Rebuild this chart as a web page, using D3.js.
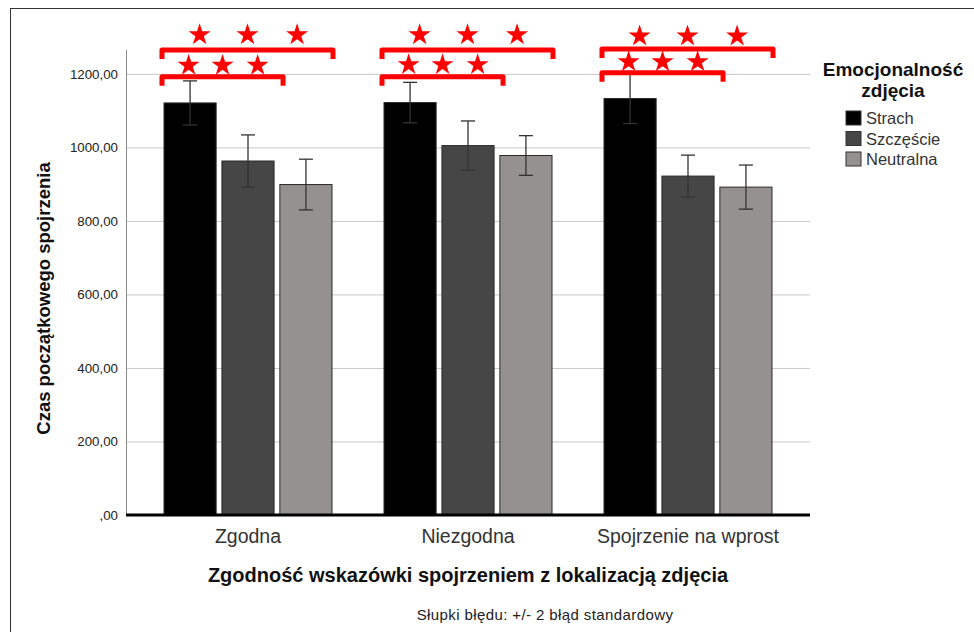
<!DOCTYPE html>
<html>
<head>
<meta charset="utf-8">
<script src="https://cdn.jsdelivr.net/npm/d3@7"></script>
<style>
  body { margin: 0; background: #fff; }
  svg { font-family: "Liberation Sans", Arial, sans-serif; }
</style>
</head>
<body>
<svg id="chart" width="974" height="632"></svg>
<script>
// data
const groups = ["Zgodna", "Niezgodna", "Spojrzenie na wprost"];
const series = ["Strach", "Szczęście", "Neutralna"];
const colors = ["#000000", "#464646", "#959190"];
const means = [
    [1121, 963, 899],
    [1122, 1005, 978],
    [1133, 922, 892]
];
const errs = [
    [60, 71, 69],
    [55, 67, 54],
    [68, 57, 60]
];
const yTicks = [0, 200, 400, 600, 800, 1000, 1200];
// significance brackets: group index, last series covered, bracket level, star level
const brackets = [
    {g: 0, to: 2, level: 1265, star: 1306},
    {g: 0, to: 1, level: 1192, star: 1223},
    {g: 1, to: 2, level: 1265, star: 1306},
    {g: 1, to: 1, level: 1192, star: 1225},
    {g: 2, to: 2, level: 1268, star: 1303},
    {g: 2, to: 1, level: 1203, star: 1233}
];
const starPos = [0.22, 0.5, 0.79];

const svg = d3.select("#chart");

// outer frame
svg.append("rect")
    .attr("x", 10.5).attr("y", 8.5)
    .attr("width", 1000).attr("height", 700)
    .attr("fill", "none").attr("stroke", "#333");

const plotLeft = 126, plotRight = 810;

const y = d3.scaleLinear()
    .domain([0, 1265])
    .range([515, 50]);

const x0 = d3.scaleBand()
    .domain(groups)
    .range([138, 798])
    .padding(0);

const x1 = d3.scaleBand()
    .domain(series)
    .range([26, 194])
    .paddingInner(0.1);

// gridlines
svg.append("g")
    .selectAll("line")
    .data(yTicks.filter(d => d > 0))
    .join("line")
    .attr("x1", plotLeft).attr("x2", plotRight)
    .attr("y1", d => y(d) + 0.5).attr("y2", d => y(d) + 0.5)
    .attr("stroke", "#c8c8c8").attr("stroke-width", 1);

// y axis
const yAxis = svg.append("g")
    .attr("transform", `translate(${plotLeft},0)`)
    .call(d3.axisLeft(y).tickValues(yTicks).tickSize(0).tickPadding(8)
        .tickFormat(d => d === 0 ? ",00" : d + ",00"));
yAxis.select(".domain").remove();
yAxis.selectAll("text")
    .attr("font-size", 13.3)
    .attr("fill", "#222")
    .attr("font-family", "Liberation Sans, Arial, sans-serif");

svg.append("line")
    .attr("x1", plotLeft + 0.5).attr("x2", plotLeft + 0.5)
    .attr("y1", y(1265)).attr("y2", 515)
    .attr("stroke", "#888");

// bars
const groupG = svg.append("g")
    .selectAll("g")
    .data(groups)
    .join("g")
    .attr("transform", d => `translate(${x0(d)},0)`);

groupG.selectAll("rect")
    .data((d, i) => series.map((s, j) => ({s, j, v: means[i][j], e: errs[i][j]})))
    .join("rect")
    .attr("x", d => x1(d.s))
    .attr("y", d => y(d.v))
    .attr("width", x1.bandwidth())
    .attr("height", d => y(0) - y(d.v))
    .attr("fill", d => colors[d.j])
    .attr("stroke", "#2a2a2a")
    .attr("stroke-width", 1);

// error bars
const eb = groupG.selectAll("g.err")
    .data((d, i) => series.map((s, j) => ({s, j, v: means[i][j], e: errs[i][j]})))
    .join("g")
    .attr("class", "err")
    .attr("stroke", "#333")
    .attr("stroke-width", 1.3);

eb.append("line")
    .attr("x1", d => x1(d.s) + x1.bandwidth() / 2)
    .attr("x2", d => x1(d.s) + x1.bandwidth() / 2)
    .attr("y1", d => y(d.v - d.e))
    .attr("y2", d => y(d.v + d.e));
eb.selectAll("line.cap")
    .data(d => [d.v - d.e, d.v + d.e].map(v => ({s: d.s, v})))
    .join("line")
    .attr("class", "cap")
    .attr("x1", d => x1(d.s) + x1.bandwidth() / 2 - 7)
    .attr("x2", d => x1(d.s) + x1.bandwidth() / 2 + 7)
    .attr("y1", d => y(d.v))
    .attr("y2", d => y(d.v));

// baseline
svg.append("line")
    .attr("x1", plotLeft).attr("x2", plotRight)
    .attr("y1", y(0)).attr("y2", y(0))
    .attr("stroke", "#000").attr("stroke-width", 3);

// x labels
svg.append("g")
    .selectAll("text")
    .data(groups)
    .join("text")
    .attr("x", d => x0(d) + x0.bandwidth() / 2)
    .attr("y", 543)
    .attr("text-anchor", "middle")
    .attr("font-size", 19.5)
    .attr("fill", "#333")
    .text(d => d);

// significance brackets
const br = svg.append("g");
brackets.forEach(b => {
    const gx = x0(groups[b.g]);
    const xa = gx + x1(series[0]) - 2;
    const xb = b.to === 2 ? gx + x1(series[2]) + x1.bandwidth() + 1
                          : gx + x1(series[1]) + x1.bandwidth() + 9;
    const yt = y(b.level);
    br.append("path")
        .attr("d", `M${xa},${yt + 9}V${yt}H${xb}V${yt + 9}`)
        .attr("fill", "none")
        .attr("stroke", "#ff0000")
        .attr("stroke-width", 5)
        .attr("stroke-linejoin", "round");
    br.selectAll(null)
        .data(starPos)
        .join("path")
        .attr("d", d3.symbol(d3.symbolStar, 150))
        .attr("transform", p => `translate(${xa + (xb - xa) * p},${y(b.star)})`)
        .attr("fill", "#ff0000");
});

// axis titles
svg.append("text")
    .attr("transform", `translate(50,${(y(0) + y(1265)) / 2 + 16}) rotate(-90)`)
    .attr("text-anchor", "middle")
    .attr("font-size", 18.5)
    .attr("font-weight", "bold")
    .attr("fill", "#111")
    .text("Czas początkowego spojrzenia");

svg.append("text")
    .attr("x", 468).attr("y", 582)
    .attr("text-anchor", "middle")
    .attr("font-size", 20)
    .attr("font-weight", "bold")
    .attr("fill", "#111")
    .text("Zgodność wskazówki spojrzeniem z lokalizacją zdjęcia");

svg.append("text")
    .attr("x", 545).attr("y", 620)
    .attr("text-anchor", "middle")
    .attr("font-size", 15)
    .attr("letter-spacing", 0.4)
    .attr("fill", "#222")
    .text("Słupki błędu: +/- 2 błąd standardowy");

// legend
const legend = svg.append("g");
legend.append("text")
    .attr("x", 893).attr("y", 76)
    .attr("text-anchor", "middle")
    .attr("font-size", 19).attr("font-weight", "bold").attr("fill", "#111")
    .text("Emocjonalność");
legend.append("text")
    .attr("x", 893).attr("y", 97)
    .attr("text-anchor", "middle")
    .attr("font-size", 19).attr("font-weight", "bold").attr("fill", "#111")
    .text("zdjęcia");

const item = legend.selectAll("g.item")
    .data(series)
    .join("g")
    .attr("class", "item")
    .attr("transform", (d, i) => `translate(846,${111 + i * 20.5})`);
item.append("rect")
    .attr("width", 15).attr("height", 14)
    .attr("fill", (d, i) => colors[i])
    .attr("stroke", "#333");
item.append("text")
    .attr("x", 20).attr("y", 13)
    .attr("font-size", 16.5)
    .attr("fill", "#333")
    .text(d => d);
</script>
</body>
</html>
